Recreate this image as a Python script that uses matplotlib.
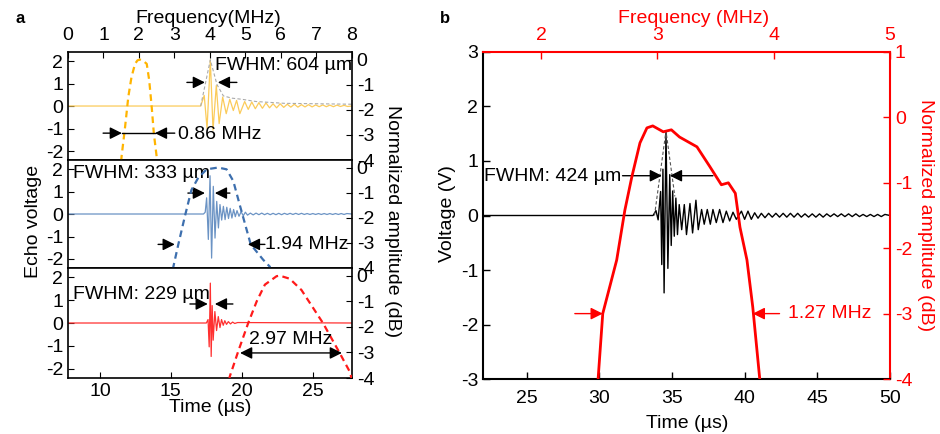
import numpy as np
import matplotlib
matplotlib.use("Agg")
import matplotlib.pyplot as plt

plt.rcParams['font.family'] = ['Liberation Sans', 'DejaVu Sans']
plt.rcParams['axes.unicode_minus'] = False

# ---------------- data ----------------
# panel a, echo waveforms (time us, voltage)
wave_yellow = np.array([
    (7.75, 0.0), (17.1, 0.0), (17.35, 0.47), (17.55, -1.0), (17.78, 2.05), (17.97, -1.07),
    (18.2, 0.91), (18.4, -0.78), (18.65, 0.40), (18.9, -0.34), (19.15, 0.30), (19.4, -0.20),
    (19.63, 0.25), (19.86, -0.34), (20.2, 0.20), (20.45, -0.15), (20.7, 0.18), (20.95, -0.12),
    (21.2, 0.15), (21.45, -0.10), (21.7, 0.14), (21.95, -0.08), (22.2, 0.10), (22.45, -0.08),
    (22.7, 0.10), (22.95, -0.06), (23.2, 0.08), (23.45, -0.05), (23.7, 0.08), (23.95, -0.05),
    (24.2, 0.06), (24.45, -0.04), (24.7, 0.06), (24.95, -0.04), (25.2, 0.05), (25.45, -0.03),
    (25.7, 0.05), (25.95, -0.03), (26.2, 0.04), (26.45, -0.03), (26.7, 0.04), (26.95, -0.02),
    (27.2, 0.03), (27.45, -0.02), (27.75, 0.0)])
env_yellow = np.array([(17.1, 0.0), (17.78, 2.05), (18.25, 0.95), (18.7, 0.45), (19.3, 0.35),
                       (20.0, 0.30), (21.0, 0.20), (23.0, 0.12), (27.75, 0.08)])
wave_blue = np.array([
    (7.75, 0.0), (17.3, 0.0), (17.42, 0.08), (17.52, 0.72), (17.64, -1.13), (17.76, 1.70),
    (17.87, -1.96), (17.99, 1.23), (18.11, -1.07), (18.23, 0.56), (18.35, -0.62), (18.46, 0.42),
    (18.58, -0.27), (18.7, 0.34), (18.82, -0.25), (18.94, 0.30), (19.06, -0.20), (19.18, 0.25),
    (19.3, -0.18), (19.42, 0.20), (19.54, -0.12), (19.66, 0.15), (19.8, -0.10), (19.95, 0.10),
    (20.1, -0.08), (20.25, 0.08), (20.4, -0.05), (20.6, 0.04), (20.8, -0.04), (21.0, 0.04),
    (21.2, -0.03), (21.4, 0.04), (21.6, -0.03), (21.8, 0.03), (22.0, -0.03), (22.2, 0.03),
    (22.4, -0.03), (22.6, 0.03), (22.8, -0.03), (23.0, 0.03), (23.2, -0.02), (23.4, 0.03),
    (23.6, -0.02), (23.8, 0.03), (24.0, -0.02), (24.2, 0.03), (24.4, -0.02), (24.6, 0.02),
    (24.8, -0.02), (25.0, 0.02), (25.2, -0.02), (25.4, 0.02), (25.6, -0.02), (25.8, 0.02),
    (26.0, -0.02), (26.2, 0.02), (26.4, -0.02), (26.6, 0.02), (26.8, -0.02), (27.0, 0.02),
    (27.2, -0.02), (27.4, 0.02), (27.75, 0.0)])
wave_red = np.array([
    (7.75, 0.0), (17.5, 0.0), (17.62, 0.15), (17.7, -1.04), (17.78, 1.74), (17.84, -1.46),
    (17.91, 0.76), (17.98, -0.75), (18.1, 0.50), (18.22, -0.33), (18.34, 0.28), (18.46, -0.20),
    (18.57, 0.15), (18.69, -0.10), (18.8, 0.10), (18.92, -0.06), (19.05, 0.06), (19.2, -0.04),
    (19.35, 0.04), (19.5, -0.02), (19.7, 0.02), (27.75, 0.0)])

# panel a, spectra (frequency MHz, normalized amplitude dB)
spec_yellow = np.array([(1.47, -4.5), (1.51, -3.87), (1.61, -2.68), (1.70, -1.49), (1.79, -0.70),
                        (1.89, -0.17), (1.96, -0.03), (2.03, 0.0), (2.12, -0.05), (2.22, -0.17),
                        (2.29, -0.83), (2.36, -1.89), (2.42, -2.94), (2.50, -3.87), (2.53, -4.5)])
spec_blue = np.array([(2.92, -4.5), (2.97, -3.95), (3.11, -3.06), (3.30, -1.91), (3.48, -0.89),
                      (3.67, -0.41), (3.91, -0.07), (4.23, 0.0), (4.47, -0.07), (4.66, -0.54),
                      (4.83, -1.43), (5.03, -2.45), (5.15, -3.06), (5.50, -3.67), (5.69, -3.95),
                      (5.75, -4.5)])
spec_red = np.array([(4.50, -4.5), (4.56, -3.94), (4.80, -2.95), (5.08, -1.85), (5.32, -1.0),
                     (5.55, -0.35), (5.88, -0.02), (5.97, 0.0), (6.25, -0.12), (6.58, -0.56),
                     (7.19, -1.86), (7.66, -3.03), (7.94, -3.75), (8.05, -4.3)])

# panel b, echo waveform (time us, voltage) and spectrum (MHz, dB)
wave_b = np.array([
    (22.0, 0.0), (33.7, 0.0), (33.9, 0.09), (34.05, -0.08), (34.22, 0.44), (34.3, -0.9),
    (34.38, 0.85), (34.46, -1.42), (34.59, 1.55), (34.72, -0.97), (34.85, 0.75), (34.95, -0.55),
    (35.05, 0.45), (35.16, -0.38), (35.27, 0.32), (35.38, -0.35), (35.5, 0.20), (35.67, -0.26),
    (35.85, 0.20), (36.0, -0.35), (36.24, 0.22), (36.42, -0.32), (36.65, 0.28), (36.81, -0.26),
    (37.04, 0.11), (37.22, -0.16), (37.43, 0.11), (37.64, -0.16), (37.82, 0.11), (38.05, -0.13),
    (38.28, 0.11), (38.51, -0.13), (38.74, 0.08), (38.97, -0.10), (39.2, 0.06), (39.43, -0.07),
    (39.78, 0.08), (40.0, -0.07), (40.23, 0.08), (40.46, -0.07), (40.69, 0.05), (40.92, -0.05),
    (41.15, 0.04), (41.4, -0.04), (41.65, 0.04), (41.9, -0.03), (42.15, 0.04), (42.4, -0.03),
    (42.65, 0.04), (42.9, -0.03), (43.15, 0.04), (43.4, -0.03), (43.65, 0.04), (43.9, -0.03),
    (44.15, 0.03), (44.4, -0.03), (44.65, 0.03), (44.9, -0.03), (45.15, 0.03), (45.4, -0.03),
    (45.65, 0.03), (45.9, -0.02), (46.15, 0.03), (46.4, -0.02), (46.65, 0.03), (46.9, -0.02),
    (47.15, 0.03), (47.4, -0.02), (47.65, 0.03), (47.9, -0.02), (48.15, 0.02), (48.4, -0.02),
    (48.65, 0.02), (48.9, -0.02), (49.15, 0.02), (49.4, -0.02), (49.65, 0.02), (50.0, 0.0)])
env_b = np.array([(33.8, 0.0), (34.59, 1.55), (35.2, 0.35)])
spec_b = np.array([(2.45, -4.6), (2.49, -4.0), (2.53, -3.0), (2.65, -2.18), (2.72, -1.42),
                   (2.78, -0.91), (2.85, -0.39), (2.91, -0.16), (2.96, -0.13), (3.05, -0.22),
                   (3.12, -0.19), (3.19, -0.30), (3.34, -0.45), (3.45, -0.75), (3.55, -1.03),
                   (3.61, -1.0), (3.67, -1.16), (3.71, -1.68), (3.77, -2.18), (3.82, -2.90),
                   (3.88, -4.0), (3.90, -4.5)])

# ---------------- figure ----------------
fig = plt.figure(figsize=(9.4, 4.34), dpi=100)
FS = 14

def arrow(ax, x0, x1, y, color='black', lw=1.0):
    ax.annotate('', xy=(x1, y), xytext=(x0, y),
                arrowprops=dict(arrowstyle='-|>', color=color, lw=lw, mutation_scale=18,
                                shrinkA=0, shrinkB=0))

rows = [(0.6313, 0.2488), (0.3825, 0.2488), (0.1290, 0.2535)]
waves = [wave_yellow, wave_blue, wave_red]
specs = [spec_yellow, spec_blue, spec_red]
wave_cols = ['#FBCB5A', '#6B93C4', '#FF3030']
spec_cols = ['#FFB400', '#3D6FAE', '#FF1A1A']

axes_t, axes_f = [], []
for i, (b, h) in enumerate(rows):
    ax = fig.add_axes([0.0723, b, 0.302, h])
    axf = fig.add_axes([0.0723, b, 0.302, h], frameon=False)
    ax.plot(waves[i][:, 0], waves[i][:, 1], color=wave_cols[i], lw=0.9)
    if i == 0:
        ax.plot(env_yellow[:, 0], env_yellow[:, 1], color='#AAAAAA', lw=0.8, ls=(0, (3, 2)))
    axf.plot(specs[i][:, 0], specs[i][:, 1], color=spec_cols[i], lw=1.6, ls=(0, (3, 2)))
    ax.set_xlim(7.75, 27.75)
    ax.set_ylim(-2.4, 2.4)
    axf.set_xlim(0, 8)
    axf.set_ylim(-4, 0.3)
    ax.set_yticks([-2, -1, 0, 1, 2])
    axf.set_yticks([0, -1, -2, -3, -4])
    ax.tick_params(direction='in', labelsize=FS, length=4, width=0.8, top=False, right=False)
    axf.tick_params(direction='in', labelsize=FS, length=4, width=0.8,
                    left=False, labelleft=False, right=True, labelright=True,
                    bottom=False, labelbottom=False, top=(i == 0), labeltop=(i == 0))
    axf.tick_params(axis='x', pad=6)
    axf.set_xticks(range(9))
    if i < 2:
        ax.tick_params(bottom=False, labelbottom=False)
    else:
        ax.set_xticks([10, 15, 20, 25])
    for s in ax.spines.values():
        s.set_linewidth(1.2)
    axes_t.append(ax)
    axes_f.append(axf)

a1, a2, a3 = axes_t
f1, f2, f3 = axes_f

# annotations, top row
a1.text(18.1, 1.8, 'FWHM: 604 µm', fontsize=FS, ha='left', va='center')
arrow(a1, 16.13, 17.4, 1.05)
arrow(a1, 19.65, 18.31, 1.05)
arrow(f1, 0.99, 1.52, -2.93)
f1.plot([1.52, 2.45], [-2.93, -2.93], color='black', lw=1.0)
arrow(f1, 3.01, 2.45, -2.93)
f1.text(3.1, -3.0, '0.86 MHz', fontsize=FS, ha='left', va='center')

# middle row
a2.text(8.1, 1.78, 'FWHM: 333 µm', fontsize=FS, ha='left', va='center')
arrow(a2, 16.2, 17.4, 0.93)
arrow(a2, 19.16, 18.1, 0.93)
arrow(f2, 2.54, 3.01, -3.06)
arrow(f2, 5.55, 5.07, -3.06)
f2.text(5.56, -3.06, '1.94 MHz', fontsize=FS, ha='left', va='center')

# bottom row
a3.text(8.1, 1.24, 'FWHM: 229 µm', fontsize=FS, ha='left', va='center')
arrow(a3, 16.34, 17.6, 0.83)
arrow(a3, 19.37, 18.1, 0.83)
f3.annotate('', xy=(7.72, -3.02), xytext=(4.85, -3.02),
            arrowprops=dict(arrowstyle='<|-|>', color='black', lw=1.0, mutation_scale=18,
                            shrinkA=0, shrinkB=0))
f3.text(6.28, -2.5, '2.97 MHz', fontsize=FS, ha='center', va='center')

fig.text(0.016, 0.958, 'a', fontsize=12, fontweight='bold', ha='left', va='center')
fig.text(0.222, 0.958, 'Frequency(MHz)', fontsize=FS, ha='center', va='center')
fig.text(0.224, 0.06, 'Time (µs)', fontsize=FS, ha='center', va='center')
fig.text(0.036, 0.49, 'Echo voltage', fontsize=FS, rotation=90, ha='center', va='center')
fig.text(0.418, 0.49, 'Normalized amplitude (dB)', fontsize=FS, rotation=270,
         ha='center', va='center')

# ---------------- panel b ----------------
FSb = 14
red = '#FF0000'
bx = fig.add_axes([0.5138, 0.1267, 0.433, 0.7535])
bf = fig.add_axes([0.5138, 0.1267, 0.433, 0.7535], frameon=False)
bx.plot(wave_b[:, 0], wave_b[:, 1], color='black', lw=1.0)
bx.plot(env_b[:, 0], env_b[:, 1], color='#555555', lw=0.8, ls=(0, (3, 2)))
bf.plot(spec_b[:, 0], spec_b[:, 1], color=red, lw=2.0)
bx.set_xlim(22, 50)
bx.set_ylim(-3, 3)
bf.set_xlim(1.5, 5)
bf.set_ylim(-4, 1)
bx.set_xticks([25, 30, 35, 40, 45, 50])
bx.set_yticks([-3, -2, -1, 0, 1, 2, 3])
bf.set_xticks([2, 3, 4, 5])
bf.set_yticks([1, 0, -1, -2, -3, -4])
bx.tick_params(direction='in', labelsize=FSb, length=5, width=1.0, top=False, right=False)
bx.tick_params(axis='x', pad=8)
bf.tick_params(direction='in', labelsize=FSb, length=5, width=1.0, colors=red,
               left=False, labelleft=False, bottom=False, labelbottom=False,
               top=True, labeltop=True, right=True, labelright=True)
bf.tick_params(axis='x', pad=6)
bx.spines['left'].set_linewidth(1.5)
bx.spines['bottom'].set_linewidth(1.5)
bx.spines['top'].set_color(red)
bx.spines['right'].set_color(red)
bx.spines['top'].set_linewidth(1.5)
bx.spines['right'].set_linewidth(1.5)

bx.text(22.1, 0.72, 'FWHM: 424 µm', fontsize=FSb, ha='left', va='center')
arrow(bx, 31.6, 34.31, 0.73)
arrow(bx, 37.82, 34.86, 0.73)
arrow(bf, 2.29, 2.53, -3.0, color=red)
arrow(bf, 4.05, 3.82, -3.0, color=red)
bf.text(4.12, -3.0, '1.27 MHz', fontsize=FSb, color=red, ha='left', va='center')

fig.text(0.468, 0.958, 'b', fontsize=12, fontweight='bold', ha='left', va='center')
fig.text(0.738, 0.958, 'Frequency (MHz)', fontsize=FSb, color=red, ha='center', va='center')
fig.text(0.731, 0.024, 'Time (µs)', fontsize=FSb, ha='center', va='center')
fig.text(0.476, 0.509, 'Voltage (V)', fontsize=FSb, rotation=90, ha='center', va='center')
fig.text(0.985, 0.505, 'Normalized amplitude (dB)', fontsize=FSb, color=red, rotation=270,
         ha='center', va='center')

fig.savefig('out.png', dpi=100, facecolor='white')
